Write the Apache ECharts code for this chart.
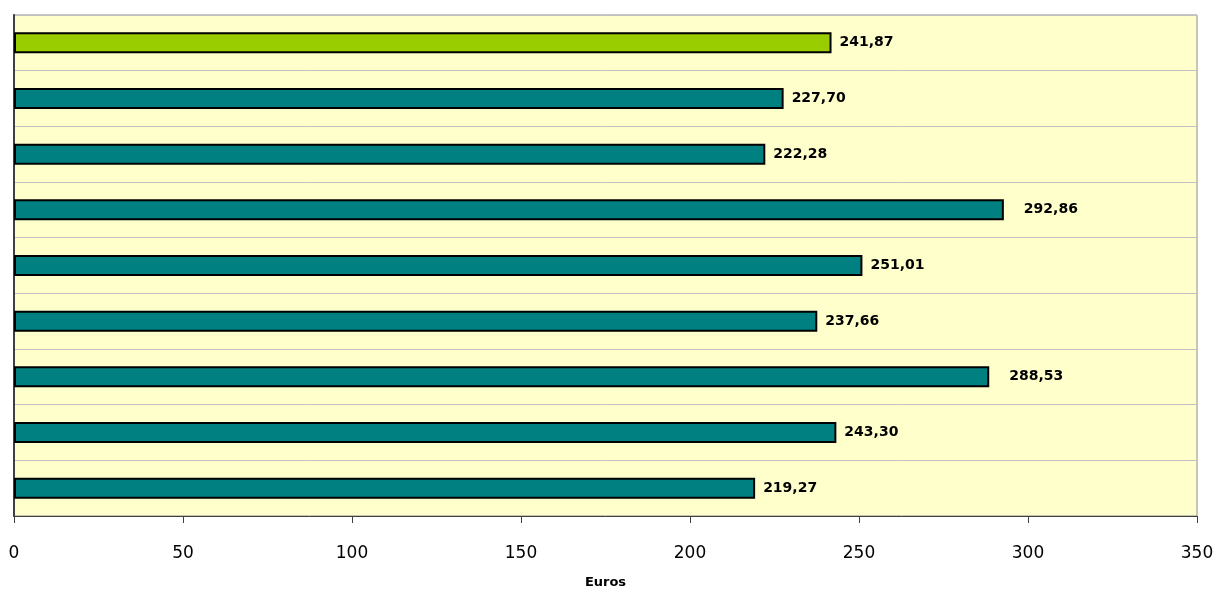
<!DOCTYPE html>
<html>
<head>
<meta charset="utf-8">
<script src="https://cdn.jsdelivr.net/npm/echarts@6/dist/echarts.min.js"></script>
<style>
  html, body { margin: 0; padding: 0; background: #fff; }
  #chart { width: 1219px; height: 592px; }
</style>
</head>
<body>
<div id="chart"></div>
<script>
  // top to bottom, as in the picture
  const categories = ['1', '2', '3', '4', '5', '6', '7', '8', '9'];
  const values = [241.87, 227.70, 222.28, 292.86, 251.01, 237.66, 288.53, 243.30, 219.27];
  const highlight = [true, false, false, false, false, false, false, false, false];
  const xTicks = [0, 50, 100, 150, 200, 250, 300, 350];

  const fmt = (v) => v.toFixed(2).replace('.', ',');

  const chart = echarts.init(document.getElementById('chart'));

  const option = {
    animation: false,
    grid: {
      left: 14, right: 22, top: 15, bottom: 76,
      outerBoundsMode: 'none',
      containLabel: false,
      show: true,
      backgroundColor: '#FFFFCC',
      borderColor: '#8c8c8c',
      borderWidth: 1,
    },
    xAxis: {
      type: 'value',
      min: xTicks[0],
      max: xTicks[xTicks.length - 1],
      interval: 50,
      name: 'Euros',
      nameLocation: 'middle',
      nameGap: 60,
      nameTextStyle: { fontFamily: 'DejaVu Sans', fontWeight: 'bold', fontSize: 13, color: '#000' },
      axisLine: { show: true, lineStyle: { color: '#404040', width: 1 } },
      axisTick: { show: true, length: 7, lineStyle: { color: '#404040' } },
      axisLabel: { fontFamily: 'DejaVu Sans', fontSize: 17, color: '#000', margin: 29 },
      splitLine: { show: false },
    },
    yAxis: {
      type: 'category',
      data: categories,
      inverse: true,
      axisLine: { show: true, lineStyle: { color: '#404040', width: 2 } },
      axisTick: { show: false },
      axisLabel: { show: false },
      splitLine: { show: true, lineStyle: { color: '#c0c0c0', width: 1 } },
    },
    series: [
      {
        type: 'bar',
        barWidth: 21,
        data: values.map((v, i) => ({
          value: v,
          itemStyle: { color: highlight[i] ? '#9ACD00' : '#008080' },
          label: { offset: [v > 280 ? 12 : 0, 0] },
        })),
        itemStyle: { borderColor: '#000', borderWidth: 2 },
        label: {
          show: true,
          position: 'right',
          distance: 8,
          formatter: (p) => fmt(p.value),
          fontFamily: 'DejaVu Sans',
          fontWeight: 'bold',
          fontSize: 14,
          color: '#000',
        },
      },
    ],
  };

  chart.setOption(option);
  window.addEventListener('resize', () => chart.resize());
</script>
</body>
</html>
